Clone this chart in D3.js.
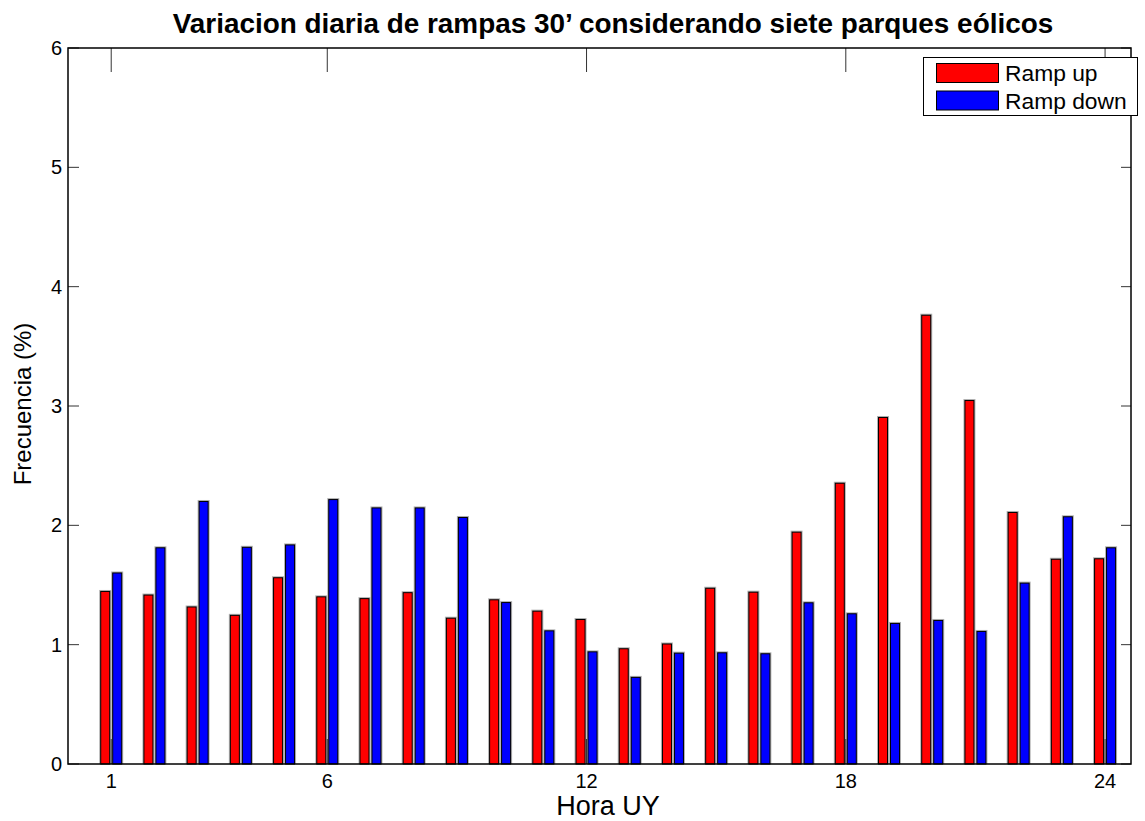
<!DOCTYPE html>
<html>
<head>
<meta charset="utf-8">
<script src="https://cdn.jsdelivr.net/npm/d3@7"></script>
<style>
  html, body { margin: 0; padding: 0; background: #fff; }
  svg { display: block; font-family: "Liberation Sans", Arial, sans-serif; }
</style>
</head>
<body>
<svg id="chart" width="1145" height="821"></svg>
<script>
const hours = d3.range(1, 25);
const rampUp = [1.45, 1.42, 1.32, 1.25, 1.565, 1.405, 1.39, 1.44, 1.226, 1.38, 1.285, 1.215,
                0.97, 1.01, 1.477, 1.444, 1.947, 2.357, 2.908, 3.765, 3.05, 2.112, 1.72, 1.724];
const rampDown = [1.605, 1.816, 2.204, 1.82, 1.84, 2.22, 2.15, 2.15, 2.07, 1.357, 1.12, 0.944,
                  0.73, 0.933, 0.936, 0.928, 1.355, 1.263, 1.182, 1.207, 1.115, 1.52, 2.076, 1.816];
const xTicks = [1, 6, 12, 18, 24];
const yTicks = [0, 1, 2, 3, 4, 5, 6];
const seriesNames = ["Ramp up", "Ramp down"];
const seriesColors = ["#ff0000", "#0000ff"];
const titleText = "Variacion diaria de rampas 30\u2019 considerando siete parques eólicos";
const xLabel = "Hora UY";
const yLabel = "Frecuencia (%)";

const svg = d3.select("#chart");
const L = 68, R = 1131, T = 48, B = 764;
const x = d3.scaleLinear().domain([0, 24.6]).range([L, R]);
const y = d3.scaleLinear().domain([0, 6]).range([B, T]);

// bar geometry in data units (grouped bars)
const outer = 0.2545, inner = 0.023;
const series = [rampUp, rampDown];

const g = svg.append("g");
series.forEach((vals, si) => {
  const data = hours.map((h, i) => ({h, v: vals[i]}));
  const x0 = d => si === 0 ? x(d.h - outer) : x(d.h + inner);
  const x1 = d => si === 0 ? x(d.h - inner) : x(d.h + outer);
  // gray ghost edge
  g.selectAll(null).data(data).enter().append("rect")
    .attr("x", d => x0(d) - 1).attr("y", d => y(d.v) - 1)
    .attr("width", d => x1(d) - x0(d) + 2).attr("height", d => B - y(d.v) + 1)
    .attr("fill", "#b0b0b0");
  g.selectAll(null).data(data).enter().append("rect")
    .attr("x", d => x0(d) + 0.5).attr("y", d => y(d.v) + 0.5)
    .attr("width", d => x1(d) - x0(d) - 1).attr("height", d => B - y(d.v) - 0.5)
    .attr("fill", seriesColors[si]).attr("stroke", "#000").attr("stroke-width", 1);
});

// ticks (MATLAB style: inside, on all four sides)
const tickCol = "#333";
const axG = svg.append("g");
xTicks.forEach(t => {
  axG.append("line").attr("x1", x(t)).attr("x2", x(t)).attr("y1", B).attr("y2", B - 25)
    .attr("stroke", tickCol).attr("stroke-width", 1);
  axG.append("line").attr("x1", x(t)).attr("x2", x(t)).attr("y1", T).attr("y2", T + 24)
    .attr("stroke", tickCol).attr("stroke-width", 1);
  axG.append("text").attr("x", x(t)).attr("y", B + 24).attr("text-anchor", "middle")
    .attr("font-size", 20).attr("fill", "#000").text(t);
});
yTicks.forEach(t => {
  axG.append("line").attr("x1", L).attr("x2", L + 11).attr("y1", y(t)).attr("y2", y(t))
    .attr("stroke", tickCol).attr("stroke-width", 1);
  axG.append("line").attr("x1", R).attr("x2", R - 10).attr("y1", y(t)).attr("y2", y(t))
    .attr("stroke", tickCol).attr("stroke-width", 1);
  axG.append("text").attr("x", L - 6).attr("y", y(t) + 7).attr("text-anchor", "end")
    .attr("font-size", 20).attr("fill", "#000").text(t);
});

// box
axG.append("rect").attr("x", L).attr("y", T).attr("width", R - L).attr("height", B - T)
  .attr("fill", "none").attr("stroke", "#000").attr("stroke-width", 1.5);

// title & labels
svg.append("text").attr("x", 613).attr("y", 33).attr("text-anchor", "middle")
  .attr("font-size", 27.9).attr("font-weight", "bold").text(titleText);
svg.append("text").attr("x", 608).attr("y", 815).attr("text-anchor", "middle")
  .attr("font-size", 27).text(xLabel);
svg.append("text").attr("transform", `translate(31, 404) rotate(-90)`)
  .attr("text-anchor", "middle").attr("font-size", 24).text(yLabel);

// legend
const lg = svg.append("g");
lg.append("rect").attr("x", 923.5).attr("y", 57.5).attr("width", 214).attr("height", 58)
  .attr("fill", "#fff").attr("stroke", "#000").attr("stroke-width", 1);
seriesNames.forEach((n, i) => {
  const yy = 63 + i * 27.5;
  lg.append("rect").attr("x", 936.5).attr("y", yy + 0.5).attr("width", 62).attr("height", 19)
    .attr("fill", seriesColors[i]).attr("stroke", "#000").attr("stroke-width", 1);
  lg.append("text").attr("x", 1005).attr("y", yy + 18).attr("font-size", 22.8).text(n);
});
</script>
</body>
</html>
